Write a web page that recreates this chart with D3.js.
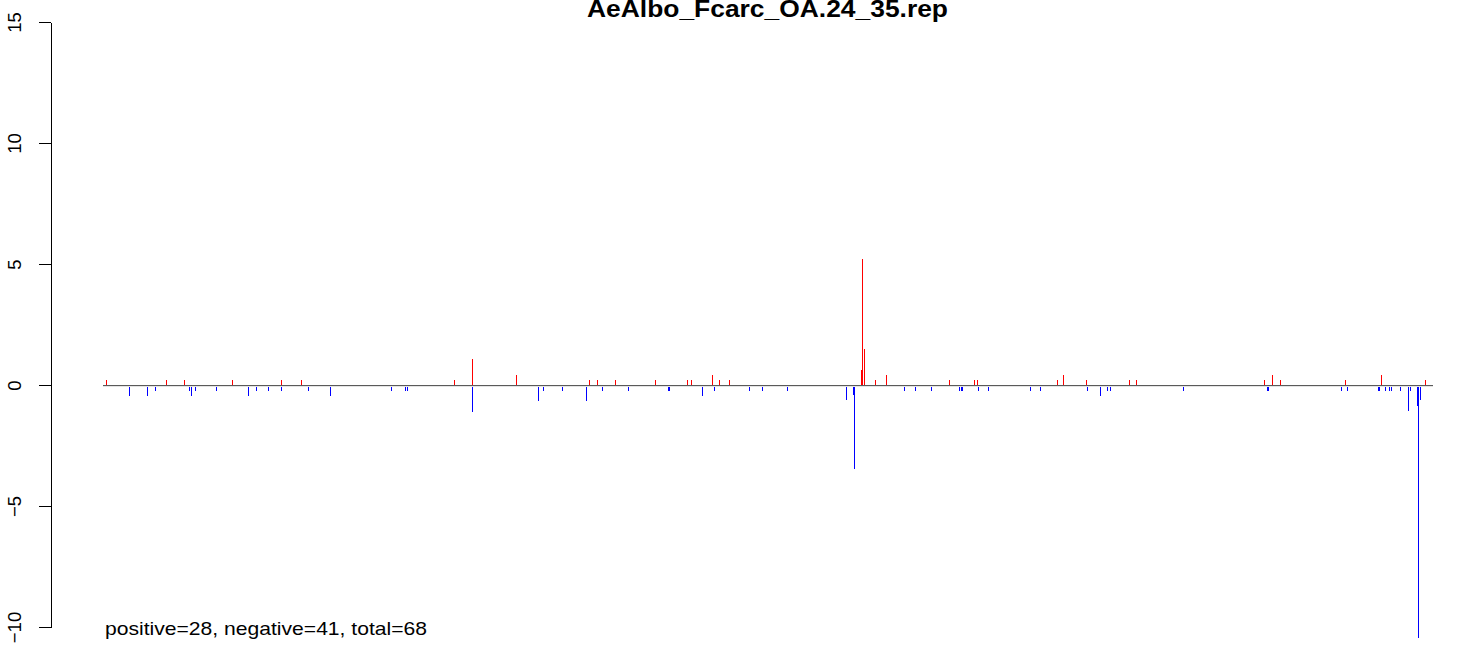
<!DOCTYPE html>
<html>
<head>
<meta charset="utf-8">
<script src="https://cdn.jsdelivr.net/npm/d3@7"></script>
<style>
html,body{margin:0;padding:0;background:#fff;}
svg{display:block;}
text{font-family:"Liberation Sans",Arial,sans-serif;}
</style>
</head>
<body>
<script>
// ---- data ----
const title = "AeAlbo_Fcarc_OA.24_35.rep";
const summary = "positive=28, negative=41, total=68";
const yTicks = [-10, -5, 0, 5, 10, 15];
const posRange = [0, 1329];

// positive (red) lines: position, value
const posRed = [3,63,81,130,178,198,352,369,413,486,494,512,552,584,589,610,616,626,758,759,760,761,772,783,846,871,874,954,960,983,1026,1033,1161,1169,1178,1242,1278,1322];
const valRed = [0.2,0.2,0.2,0.2,0.2,0.2,0.2,1.07,0.41,0.2,0.2,0.2,0.2,0.2,0.2,0.41,0.2,0.2,0.63,0.63,5.22,1.5,0.2,0.41,0.2,0.2,0.2,0.2,0.41,0.2,0.2,0.2,0.2,0.41,0.2,0.2,0.41,0.2];

// negative (blue) lines: position, value
const posBlue = [26,44,52,86,88,92,113,145,153,165,178,205,227,288,302,305,369,435,440,459,483,499,525,565,566,599,611,646,659,684,743,750,751,802,812,829,856,858,859,875,885,927,937,984,997,1004,1007,1080,1164,1165,1238,1244,1275,1276,1282,1286,1289,1297,1305,1307,1314,1315,1316,1317];
const valBlue = [-0.44,-0.44,-0.23,-0.23,-0.44,-0.23,-0.23,-0.44,-0.23,-0.23,-0.23,-0.23,-0.44,-0.23,-0.23,-0.23,-1.1,-0.65,-0.23,-0.23,-0.65,-0.23,-0.23,-0.23,-0.23,-0.44,-0.23,-0.23,-0.23,-0.23,-0.63,-0.43,-3.48,-0.23,-0.23,-0.23,-0.23,-0.23,-0.23,-0.23,-0.23,-0.23,-0.23,-0.23,-0.44,-0.23,-0.23,-0.23,-0.23,-0.23,-0.23,-0.23,-0.23,-0.23,-0.23,-0.23,-0.23,-0.23,-1.09,-0.23,-0.88,-10.47,-0.23,-0.63];

// ---- layout ----
const W = 1460, H = 655;
const svg = d3.select("body").append("svg").attr("width", W).attr("height", H);

const x = d3.scaleLinear().domain([0, 1330]).range([103, 1433]);
const y = d3.scaleLinear().domain([-10, 15]).range([627, 22]);

const red = posRed.map((p, i) => ({p, v: valRed[i]}));
const blue = posBlue.map((p, i) => ({p, v: valBlue[i]}));

const g = svg.append("g").attr("shape-rendering", "crispEdges");

g.selectAll("line.red").data(red).enter().append("line")
  .attr("x1", d => Math.floor(x(d.p)) + 0.5).attr("x2", d => Math.floor(x(d.p)) + 0.5)
  .attr("y1", y(0)).attr("y2", d => y(d.v))
  .attr("stroke", "#ff0000").attr("stroke-width", 1);

g.selectAll("line.blue").data(blue).enter().append("line")
  .attr("x1", d => Math.floor(x(d.p)) + 0.5).attr("x2", d => Math.floor(x(d.p)) + 0.5)
  .attr("y1", y(0)).attr("y2", d => y(d.v))
  .attr("stroke", "#0000ff").attr("stroke-width", 1);

// zero line
g.append("line")
  .attr("x1", x(posRange[0])).attr("x2", x(posRange[1]) + 1)
  .attr("y1", y(0) + 1.5).attr("y2", y(0) + 1.5)
  .attr("stroke", "#e4e4e4");
g.append("line")
  .attr("x1", x(posRange[0])).attr("x2", x(posRange[1]) + 1)
  .attr("y1", y(0) + 0.5).attr("y2", y(0) + 0.5)
  .attr("stroke", "#5a5a5a");

// y axis
const axis = d3.axisLeft(y).tickValues(yTicks).tickSize(12).tickSizeOuter(0).tickFormat(d3.format("d"));
const ag = svg.append("g").attr("transform", "translate(50.5,0)").call(axis);
ag.select(".domain").attr("stroke", "#000").attr("shape-rendering", "crispEdges");
ag.selectAll(".tick line").attr("stroke", "#000").attr("shape-rendering", "crispEdges");
ag.selectAll(".tick text")
  .attr("x", 0).attr("dy", 0)
  .attr("transform", "translate(-29.5,0) rotate(-90)")
  .attr("text-anchor", "middle")
  .attr("font-size", 18.5)
  .attr("font-family", "Liberation Sans, Arial, sans-serif")
  .attr("fill", "#000");

// title
svg.append("text")
  .attr("x", 587).attr("y", 17.3)
  .attr("font-size", 23).attr("font-weight", "bold")
  .attr("textLength", 361).attr("lengthAdjust", "spacingAndGlyphs")
  .text(title);

// summary text
svg.append("text")
  .attr("x", 105).attr("y", 635)
  .attr("font-size", 18.6)
  .attr("textLength", 322).attr("lengthAdjust", "spacingAndGlyphs")
  .text(summary);
</script>
</body>
</html>
